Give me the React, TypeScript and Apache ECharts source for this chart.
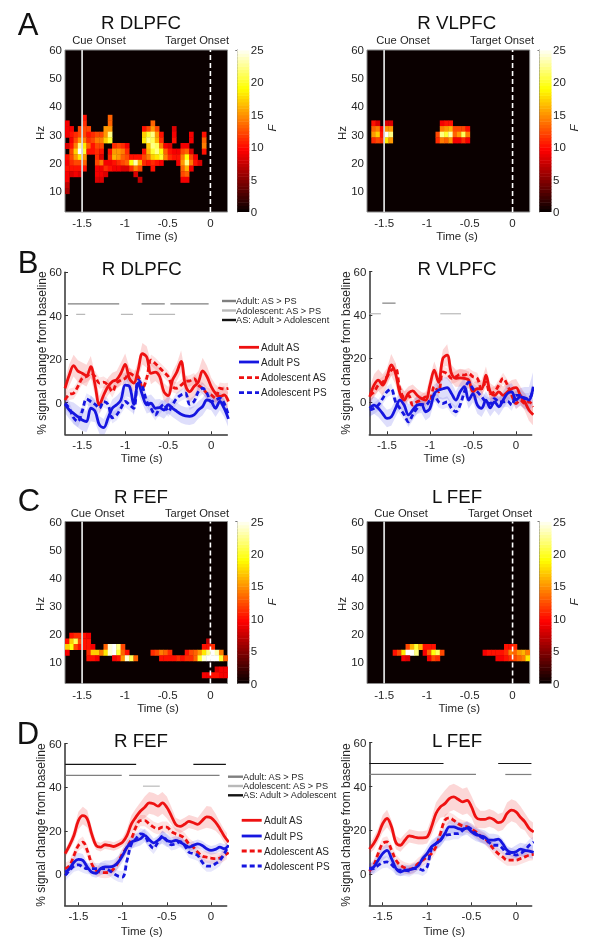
import React, { useEffect, useRef } from "react";
import * as echarts from "echarts";

const FONT = "'Liberation Sans', Arial, sans-serif";
const TEXT = "#262626";

const xTicks = [-1.5, -1, -0.5, 0];
const hzTicks = [10, 20, 30, 40, 50, 60];
const pctTicks = [0, 20, 40, 60];
const colorTicks = [0, 5, 10, 15, 20, 25];
const colorLevels = [0,0.5,1,1.5,2,2.5,3,3.5,4,4.5,5,5.5,6,6.5,7,7.5,8,8.5,9,9.5,10,10.5,11,11.5,12,12.5,13,13.5,14,14.5,15,15.5,16,16.5,17,17.5,18,18.5,19,19.5,20,20.5,21,21.5,22,22.5,23,23.5,24,24.5,25];

// Each row: [Hz, F values per 0.05 s column from -1.7 s]
const heatRDLPFC: [number, number[]][] = [
  [36, [0,0,0,0,10,0,0,0,0,0,13]],
  [34, [9,0,0,0,11,0,0,0,0,0,13,0,0,0,0,0,0,0,0,0,13]],
  [32, [9,9,0,12,12,12,0,0,0,15,15,0,0,0,0,0,0,0,10,12,15,12,0,0,0,8]],
  [30, [9,10,11,12,12,10,11,12,12,15,22,0,0,0,0,0,0,0,17,20,22,15,10,0,0,9,0,0,0,9,0,0,10]],
  [28, [0,9,12,15,14,11,12,14,14,17,20,0,0,0,0,0,0,0,18,22,21,16,11,0,0,10,0,0,0,9,0,0,13]],
  [26, [8,10,14,22,18,13,10,12,12,0,0,11,12,11,9,0,0,0,0,17,22,21,14,9,8,0,0,9,9,0,0,0,14]],
  [24, [0,12,17,25,20,10,10,11,10,0,10,15,15,14,11,0,0,0,10,16,20,22,19,13,10,9,9,12,13,8,0,0,10]],
  [22, [10,12,15,18,15,0,0,11,8,0,11,16,15,13,12,10,10,10,12,14,17,18,20,14,11,10,10,14,19,12,9]],
  [20, [9,11,12,12,13,0,0,12,14,9,9,10,11,12,13,19,23,16,11,10,11,10,9,0,0,0,9,15,22,14,10,8]],
  [18, [10,10,10,10,10,0,0,9,9,11,10,9,9,8,8,11,14,12,0,0,10,0,0,0,0,0,0,13,16,9]],
  [16, [9,8,9,8,0,0,0,9,9,8,0,0,0,0,0,0,8,0,0,0,0,0,0,0,0,0,0,12,13]],
  [14, [9,0,0,0,0,0,0,8,8,0,0,0,0,0,0,0,0,7,0,0,0,0,0,0,0,0,0,9,9]],
  [12, [7]],
  [10, [6]],
];
const heatRVLPFC: [number, number[]][] = [
  [34, [0,10,8,0,8,8,0,0,0,0,0,0,0,0,0,0,0,9,10,10]],
  [32, [0,13,14,9,15,15,0,0,0,0,0,0,0,0,0,0,0,14,15,16,12,12,12,10]],
  [30, [0,15,17,10,25,22,0,0,0,0,0,0,0,0,0,0,12,22,20,23,13,15,21,14]],
  [28, [0,11,12,11,18,15,0,0,0,0,0,0,0,0,0,0,11,14,13,15,9,9,11,9]],
];
const heatRFEF: [number, number[]][] = [
  [19.5, [0,10,11,11,10,9]],
  [17.5, [10,17,21,12,10,10,0,0,0,0,0,0,0,0,0,0,0,0,0,0,0,0,0,0,0,0,0,0,0,0,0,0,0,7]],
  [15.5, [17,19,12,10,10,10,9,0,0,13,24,25,22,12,0,0,0,0,0,0,0,0,0,0,0,0,0,0,0,0,0,0,10,10,11]],
  [13.5, [9,0,0,0,0,11,17,17,14,18,24,25,20,13,10,0,0,0,0,0,11,12,14,13,11,0,0,0,10,12,13,15,18,22,25,23,14]],
  [11.5, [0,0,0,0,0,10,10,9,0,0,0,9,10,15,24,21,13,0,0,0,0,0,10,10,10,10,11,10,11,11,13,20,24,25,25,25,20,13]],
  [7.5, [0,0,0,0,0,0,0,0,0,0,0,0,0,0,0,0,0,0,0,0,0,0,0,0,0,0,0,0,0,0,0,0,0,0,0,8,9,9]],
  [5.5, [0,0,0,0,0,0,0,0,0,0,0,0,0,0,0,0,0,0,0,0,0,0,0,0,0,0,0,0,0,0,0,0,9,9,10,10,9,9]],
];
const heatLFEF: [number, number[]][] = [
  [15.5, [0,0,0,0,0,0,0,0,0,12,16,20,16,10,10,10,0,0,0,0,0,0,0,0,0,0,0,0,0,0,0,0,10,10,11]],
  [13.5, [0,0,0,0,0,0,10,12,18,25,25,22,0,9,13,19,21,12,0,0,0,0,0,0,0,0,0,9,10,10,10,10,11,14,13,15,16,14]],
  [11.5, [0,0,0,0,0,0,0,0,9,8,0,0,0,0,9,12,11,0,0,0,0,0,0,0,0,0,0,0,0,0,9,9,10,11,12,13,14,18]],
];

// B panels: one value per 0.05 s from -1.7 s
const bLeftAdultAS = [6.5,12.7,17,14.5,13.5,12.4,16.5,8,-1,3.5,7.4,9.7,10.5,13.5,17.6,11,9,15,22.5,21,13.5,14,12,5,3.2,10.4,14,19,8,5,7.4,9.4,14.6,12,7.4,4.3,2.8,3.5,0.5];
const bLeftAdultPS = [-0.8,-3.4,-5,-6.5,-8,-8.7,-2.6,-4,-10.3,-11.5,-7.2,-2.6,-1,1.2,8,7.4,-0.8,9,3.5,-1,-0.3,-2.6,-2.3,-3.4,-1,-2.6,-4,-5.4,-6.1,-6.3,-5.7,-3.4,-1.8,1.2,0.5,-2.6,0.5,-2.6,-7.5];
const bLeftAdolAS = [1.2,3.8,4.3,7.4,11.2,12,13.5,12,9,9.4,8,5,9,10.4,11.2,13.5,12.4,12,6.6,11.2,19.6,18,16,14,12,7.4,6.6,8,9.7,10,11,8,6.6,4.3,3.5,2,6.6,6.3,6.6];
const bLeftAdolPS = [-0.3,-2.6,-7,-8.7,-4,1.7,0.5,-0.8,-2.6,0.5,-0.8,-7,-5.7,-2.6,0.5,-1,-2.6,10.4,7.4,0.5,-2.6,-5.7,-2.6,-0.8,-4,-1,2,3.5,4.3,-0.8,0.5,5,6.6,4.3,0.5,1.2,2,-0.3,-5.7];
const bRightAdultAS = [2.3,7.7,10,7.7,11.5,17,13,4,0.8,4,5,3,1.5,0.8,7.7,14.6,9,20,21.5,13,10.8,11,10.8,10,4.6,6,6,12.3,4.6,3,4.6,3,4.6,6,6.5,3,0,-3.8,-6];
const bRightAdultPS = [-3,-1.5,-3,-5.4,-7.7,-7,-3,0.8,-1.5,-6,-3.8,-1.5,-1.2,-4.6,-3,3.8,5.4,6,6.5,3.8,0.8,4.6,7,0.8,3.8,-1.5,-3,0.8,-2.8,0,-2.3,0.8,3.8,4.6,0.8,2.3,1.8,0.8,7];
const bRightAdolAS = [3,4.6,7.7,9,11.5,14.6,15.4,6,2.3,3,-1.5,0,0.8,2.3,1.5,7,4.6,13.8,13,10.8,11.5,12.6,12.3,13,11.5,10.8,6,9,3.8,4.6,7.7,10.8,7.7,3,-0.8,0.8,-0.8,0,-2.3];
const bRightAdolPS = [-3.8,-3,-1.5,1.5,4.6,5.8,0,-3,-6,-9.2,-6,-3,-1.2,-1.5,0.8,3,0,-0.8,0,-3,-4.6,-1.5,4.6,9,6,4.6,2.3,0,-0.8,1.5,0,0,0.3,-1.5,3,3,1.5,1.5,6];

// D panels: one value per 0.05 s from -1.65 s
const dLeftAdultAS = [9.5,13.3,18,24.7,27,25.5,18.6,13.3,12.5,13.6,13.3,12.8,13.6,14.8,17.9,23.2,26.3,29,30.8,32.8,32.4,31.3,32.8,30.8,27,23,22,23,24.3,23.7,23,24.7,26.4,26,24,21,17.5,14.8];
const dLeftAdultPS = [1,2.6,5.6,6.9,6.4,3.4,1,0.5,2.6,3.4,3.4,3.8,5.6,8.7,12.5,14.8,15.6,16.3,17.9,16,14.5,15.6,17,15.6,15,15.6,14.8,13.6,12.5,13.3,14,13.3,11.8,11,11.5,12.5,11.8,13.3];
const dLeftAdolAS = [2.6,4,8.7,13.3,14.8,11,4.9,1.8,1,0.8,1,2.6,5.6,9.5,12.5,16.3,21.7,24.7,24.7,23.2,21.7,20.9,21.7,21.7,19.7,18.6,17.9,16.6,14,12.5,10.2,8.4,7.9,7.5,7.2,7.5,8.7,10];
const dLeftAdolPS = [-0.5,1.8,3.8,4.4,3.4,2.6,2.6,2.6,2.6,2.6,1.8,0.3,-0.8,-1.2,6.4,14,16.3,18.6,17.9,14,12,14.8,17.6,15.6,13.6,14,15,13.3,10.2,9.5,8.7,5.6,3.8,3.8,4.9,6.4,9.5,13.3];
const dRightAdultAS = [11.4,14,17.8,23,25.4,21.6,14.4,13.2,15.5,17.5,17,16.6,16.6,17,21.6,27.7,30.7,32.2,34.5,35.3,34.2,33,33.7,30.7,26,25,25,25.7,25,23.5,24.2,27.7,29.2,28.4,26,23.9,20.8,19.3];
const dRightAdultPS = [2.6,3.3,6.4,9.4,10.9,7.1,2.6,1,1.8,2,2.6,3.8,7.1,9.4,12.5,14,15.5,18.5,21.6,21.6,20.8,20.5,21,19.3,18,17.5,16.9,15.5,15.5,16,14,10.9,9.9,10.2,11.4,10.9,10.5,10];
const dRightAdolAS = [1.4,4,9.4,14,14.7,11,6.4,4,2.9,2.3,2.9,4.9,6.4,7.9,9.4,12.5,18.5,24.6,25.7,24.6,23,22,21.6,20.5,19.3,17.5,16.3,14,11.4,9.4,7.9,6.4,6.4,6.4,7.1,7.9,8.7,9];
const dRightAdolPS = [2.3,2.6,4,5.3,5.6,4.4,2.3,1.8,1.8,1.4,2.6,2.6,1.8,3.3,11.7,14,15.5,17.8,18,18.5,18.5,20,21.6,20.5,18.5,17,16,14.4,13.2,13.2,11.7,9.4,9.4,8.7,9.4,10.9,13.2,14.7];

// Half-widths of the shaded error bands
const bLeftBandAS = [4,5,5,5,5,5,5,5,4,4,4,4,4,5,5,5,4,4,5,5,5,4,4,4,4,4,4,5,5,5,5,5,6,5,4,4,4,4,4];
const bLeftBandPS = [4,4,5,5,5,5,6,5,4,4,4,4,4,4,5,5,5,5,4,4,4,4,4,4,4,4,4,4,4,4,4,4,4,4,4,4,4,4,4];
const bRightBandAS = [4,5,5,5,4,5,5,4,4,3,3,3,3,3,4,4,4,4,5,4,4,4,4,4,4,4,4,4,4,4,4,4,4,4,4,4,4,5,5];
const bRightBandPS = [4,4,4,4,4,4,4,4,4,5,4,4,4,4,4,4,4,5,5,5,4,4,4,4,4,4,4,4,4,4,4,4,4,4,4,4,5,6,7];
const dLeftBandAS = [2,2,3,4,4,4,3,2,2,2,2,2,2,2,3,4,4,4,5,5,5,5,5,5,4,3,3,3,3,3,3,4,5,5,4,3,3,3];
const dLeftBandPS = [2,2,3,3,3,2,2,2,3,3,3,3,3,3,3,3,3,3,3,3,2,2,3,3,2,2,2,2,2,2,2,2,2,2,2,2,2,2];
const dRightBandAS = [2,3,3,4,4,3,3,3,3,3,3,3,3,3,4,5,5,6,6,6,6,6,6,5,5,4,4,4,4,4,4,5,5,5,5,4,4,4];
const dRightBandPS = [2,3,3,3,3,3,3,2,2,2,2,2,2,3,3,3,3,3,3,3,3,3,3,3,3,3,3,3,3,2,2,2,2,3,3,3,3,3];

// Significance bars: [from s, to s]
const bLeftSigAdult = [[-1.667,-1.07],[-0.81,-0.54],[-0.475,-0.03]];
const bLeftSigAdol = [[-1.57,-1.465],[-1.05,-0.91],[-0.72,-0.42]];
const bRightSigAdult = [[-1.554,-1.4]];
const bRightSigAdol = [[-1.7,-1.57],[-0.88,-0.64]];
const dLeftSigGroup = [[-1.65,-0.847],[-0.2,0.168]];
const dLeftSigAdult = [[-1.643,-1.01],[-0.926,0.096]];
const dLeftSigAdol = [[-0.77,-0.58]];
const dRightSigGroup = [[-1.65,-0.815],[-0.2,0.174]];
const dRightSigAdult = [[-1.65,-0.45],[-0.12,0.174]];

const RED = "#ee1111";
const BLUE = "#1616e0";
const SIG_DARK = "#7f7f7f";
const SIG_LIGHT = "#b9b9b9";
const SIG_BLACK = "#141414";

function hot(v: number): string {
  const r = Math.min(1, v / 9.4);
  const g = Math.max(0, Math.min(1, (v - 9.4) / 9.4));
  const b = Math.max(0, Math.min(1, (v - 18.8) / 6.2));
  const c = (x: number) => Math.round(10 + x * 245);
  return `rgb(${c(r)},${Math.round(g * 255)},${Math.round(b * 255)})`;
}

function buildOption() {
  const grid: any[] = [];
  const xAxis: any[] = [];
  const yAxis: any[] = [];
  const series: any[] = [];
  const graphic: any[] = [];

  const addGrid = (g: any, x: any, y: any) => {
    grid.push({ ...g, containLabel: false });
    xAxis.push({ gridIndex: grid.length - 1, type: "value", ...x });
    yAxis.push({ gridIndex: grid.length - 1, type: "value", ...y });
    return grid.length - 1;
  };
  const label = (custom: number[], margin: number) => ({
    customValues: custom, margin, fontSize: 11.5, fontFamily: FONT, color: TEXT,
    hideOverlap: false, showMinLabel: true, showMaxLabel: true,
    formatter: (v: number) => String(v),
  });

  const heatPanel = (left: number, top: number, width: number, rows: [number, number[]][]) => {
    const idx = addGrid(
      { left, top, width, height: 162, show: true, backgroundColor: "#0a0000", borderColor: "#8a8a8a", borderWidth: 1 },
      { min: -1.7, max: 0.2, axisLine: { show: false }, splitLine: { show: false }, axisTick: { show: false, customValues: xTicks }, axisLabel: label(xTicks, 5) },
      { min: 2.5, max: 60, axisLine: { show: false }, splitLine: { show: false }, axisTick: { show: false, customValues: hzTicks }, axisLabel: label(hzTicks, 3) },
    );
    const cells: number[][] = [];
    rows.forEach(([hz, vals]) => vals.forEach((v, k) => { if (v > 0) cells.push([-1.7 + 0.05 * k, hz, v]); }));
    series.push({
      type: "custom", xAxisIndex: idx, yAxisIndex: idx, clip: true, silent: true, z: 2, data: cells,
      renderItem: (_p: any, api: any) => {
        const t = api.value(0), hz = api.value(1), v = api.value(2);
        const a = api.coord([t, hz + 1]);
        const b = api.coord([t + 0.05, hz - 1]);
        return { type: "rect", shape: { x: a[0], y: a[1], width: b[0] - a[0] + 0.4, height: b[1] - a[1] + 0.4 }, style: { fill: hot(v) } };
      },
    });
    series.push({ type: "line", xAxisIndex: idx, yAxisIndex: idx, symbol: "none", z: 3, silent: true, data: [[-1.5, 2.5], [-1.5, 60]], lineStyle: { color: "#d8d8d8", width: 1.8 } });
    series.push({ type: "line", xAxisIndex: idx, yAxisIndex: idx, symbol: "none", z: 3, silent: true, data: [[0, 2.5], [0, 60]], lineStyle: { color: "#ffffff", width: 1.6, type: [5, 3] } });

    const cbLeft = left + width + 9.8;
    const cb = addGrid(
      { left: cbLeft, top, width: 12, height: 162, show: false },
      { min: 0, max: 1, show: false },
      { min: 0, max: 25, position: "right", axisLine: { show: true, lineStyle: { color: "#777", width: 1 } }, splitLine: { show: false },
        axisTick: { show: true, inside: true, length: 2, customValues: [25], lineStyle: { color: "#777" } }, axisLabel: label(colorTicks, 1.5) },
    );
    series.push({
      type: "custom", xAxisIndex: cb, yAxisIndex: cb, clip: true, silent: true, z: 2,
      data: colorLevels.map((l) => [0, l]),
      renderItem: (_p: any, api: any) => {
        const l = api.value(1);
        const a = api.coord([0, l + 0.5]);
        const b = api.coord([1, l]);
        return { type: "rect", shape: { x: a[0], y: a[1], width: b[0] - a[0], height: b[1] - a[1] + 0.5 }, style: { fill: hot(l) } };
      },
    });
  };

  const linePanel = (g: any, xMin: number, xMax: number, yMin: number, t0: number,
    aAS: number[], aPS: number[], dAS: number[], dPS: number[], bandAS: number[], bandPS: number[],
    sigs: [number[][], string, number][]) => {
    const idx = addGrid(
      { ...g, show: false },
      { min: xMin, max: xMax, splitLine: { show: false }, axisLine: { show: true, onZero: false, lineStyle: { color: "#333", width: 1.5 } }, axisTick: { show: true, inside: true, length: 3, customValues: xTicks, lineStyle: { color: "#333" } }, axisLabel: label(xTicks, 5) },
      { min: yMin, max: 60, splitLine: { show: false }, axisLine: { show: true, onZero: false, lineStyle: { color: "#333", width: 1.5 } }, axisTick: { show: true, inside: true, length: 3, customValues: pctTicks, lineStyle: { color: "#333" } }, axisLabel: label(pctTicks, 3) },
    );
    const band = (vals: number[], hw: number[] | number, color: string, op: number) => {
      const rows = vals.map((v, i) => {
        const h = typeof hw === "number" ? hw : (hw[i] ?? hw[hw.length - 1]);
        return [t0 + 0.05 * i, v - h, v + h];
      });
      series.push({
        type: "custom", xAxisIndex: idx, yAxisIndex: idx, clip: true, silent: true, z: 2, data: rows,
        renderItem: (p: any, api: any) => {
          if (p.dataIndex !== 0) return null;
          const up = rows.map((r) => api.coord([r[0], r[2]]));
          const lo = rows.map((r) => api.coord([r[0], r[1]])).reverse();
          return { type: "polygon", shape: { points: up.concat(lo) }, style: { fill: color, opacity: op } };
        },
      });
    };
    band(aAS, bandAS, RED, 0.17);
    band(dAS, 2.6, RED, 0.12);
    band(aPS, bandPS, BLUE, 0.14);
    band(dPS, 2.6, BLUE, 0.1);
    const line = (vals: number[], color: string, dash: boolean) => series.push({
      type: "line", xAxisIndex: idx, yAxisIndex: idx, symbol: "none", smooth: 0.35, silent: true, z: 3,
      data: vals.map((v, i) => [t0 + 0.05 * i, v]),
      lineStyle: { color, width: 2.8, type: dash ? [5, 3] : "solid" },
    });
    line(aAS, RED, false);
    line(dAS, RED, true);
    line(aPS, BLUE, false);
    line(dPS, BLUE, true);
    sigs.forEach(([segs, color, level]) => segs.forEach(([a, b]) => series.push({
      type: "line", xAxisIndex: idx, yAxisIndex: idx, symbol: "none", silent: true, z: 4,
      data: [[a, level], [b, level]], lineStyle: { color, width: 1.2 },
    })));
  };

  heatPanel(65, 50, 162.5, heatRDLPFC);
  heatPanel(367, 50, 162.7, heatRVLPFC);
  heatPanel(65, 521.5, 162.5, heatRFEF);
  heatPanel(367, 521.5, 162.7, heatLFEF);

  linePanel({ left: 65, top: 272.3, width: 162.3, height: 162 }, -1.7, 0.187, -14.6, -1.7,
    bLeftAdultAS, bLeftAdultPS, bLeftAdolAS, bLeftAdolPS, bLeftBandAS, bLeftBandPS,
    [[bLeftSigAdult, SIG_DARK, 45.5], [bLeftSigAdol, SIG_LIGHT, 40.6]]);
  linePanel({ left: 369.3, top: 271.7, width: 162.4, height: 162.6 }, -1.705, 0.182, -15, -1.7,
    bRightAdultAS, bRightAdultPS, bRightAdolAS, bRightAdolPS, bRightBandAS, bRightBandPS,
    [[bRightSigAdult, SIG_DARK, 45.5], [bRightSigAdol, SIG_LIGHT, 40.6]]);
  linePanel({ left: 64.7, top: 743.7, width: 162, height: 161.6 }, -1.655, 0.177, -14.2, -1.65,
    dLeftAdultAS, dLeftAdultPS, dLeftAdolAS, dLeftAdolPS, dLeftBandAS, dLeftBandPS,
    [[dLeftSigGroup, SIG_BLACK, 50.5], [dLeftSigAdult, SIG_DARK, 45.5], [dLeftSigAdol, SIG_LIGHT, 40.5]]);
  linePanel({ left: 369.3, top: 742.7, width: 162.4, height: 162.6 }, -1.65, 0.177, -14.2, -1.65,
    dRightAdultAS, dRightAdultPS, dRightAdolAS, dRightAdolPS, dRightBandAS, dRightBandPS,
    [[dRightSigGroup, SIG_BLACK, 50.5], [dRightSigAdult, SIG_DARK, 45.5]]);

  const text = (t: string, x: number, y: number, fontSize: number, opts: any = {}) => graphic.push({
    type: "text", x, y, rotation: opts.rotation ?? 0, silent: true, z: 10,
    style: { text: t, x: 0, y: 0, fontSize, fontFamily: FONT, fontStyle: opts.italic ? "italic" : "normal", fill: opts.fill ?? TEXT, align: opts.align ?? "center", verticalAlign: "middle" },
  });
  const rule = (x1: number, x2: number, y: number, stroke: string, lineWidth: number, dash?: number[]) => graphic.push({
    type: "line", silent: true, z: 10, shape: { x1, y1: y, x2, y2: y }, style: { stroke, lineWidth, lineDash: dash },
  });

  // panel letters
  text("A", 28, 24, 31, { fill: "#111" });
  text("B", 28, 262, 31, { fill: "#111" });
  text("C", 29, 500, 31, { fill: "#111" });
  text("D", 28, 733, 31, { fill: "#111" });
  // titles
  text("R DLPFC", 141, 22, 18.7, { fill: "#111" });
  text("R VLPFC", 456.7, 22, 18.7, { fill: "#111" });
  text("R DLPFC", 141.7, 268, 18.7, { fill: "#111" });
  text("R VLPFC", 457, 268, 18.7, { fill: "#111" });
  text("R FEF", 141, 496, 18.7, { fill: "#111" });
  text("L FEF", 457, 496, 18.7, { fill: "#111" });
  text("R FEF", 141, 740, 18.7, { fill: "#111" });
  text("L FEF", 457, 740, 18.7, { fill: "#111" });
  // onset labels
  text("Cue Onset", 99, 40, 11.2);
  text("Target Onset", 197, 40, 11.2);
  text("Cue Onset", 403, 40, 11.2);
  text("Target Onset", 502, 40, 11.2);
  text("Cue Onset", 97.5, 512.7, 11.2);
  text("Target Onset", 197, 512.7, 11.2);
  text("Cue Onset", 401, 512.7, 11.2);
  text("Target Onset", 500, 512.7, 11.2);
  // axis names
  const RV = Math.PI / 2;
  [[156.7, 236], [457, 236], [158, 708], [459.3, 708], [141.7, 458], [444.3, 458], [141.7, 931], [444.3, 931]]
    .forEach(([x, y]) => text("Time (s)", x, y, 11.5));
  [[40, 133], [342, 133], [40, 604], [342, 604]].forEach(([x, y]) => text("Hz", x, y, 11.5, { rotation: RV }));
  [[272, 128], [574, 128], [272, 602], [574, 602]].forEach(([x, y]) => text("F", x, y, 11.5, { rotation: RV, italic: true }));
  [[42, 353], [346, 353], [41, 825], [346, 825]].forEach(([x, y]) => text("% signal change from baseline", x, y, 12, { rotation: RV }));
  // legends
  const legendSig = (x1: number, x2: number, ys: number[], tx: number) => {
    rule(x1, x2, ys[0], SIG_DARK, 2.4);
    rule(x1, x2, ys[1], SIG_LIGHT, 2.4);
    rule(x1, x2, ys[2], SIG_BLACK, 2.4);
    text("Adult: AS > PS", tx, ys[0], 9.2, { align: "left" });
    text("Adolescent: AS > PS", tx, ys[1], 9.2, { align: "left" });
    text("AS: Adult > Adolescent", tx, ys[2], 9.2, { align: "left" });
  };
  legendSig(222, 236, [301, 310.5, 320], 236);
  legendSig(228, 243, [776.7, 786, 795.3], 243);
  const legendLines = (x1: number, x2: number, ys: number[], tx: number) => {
    rule(x1, x2, ys[0], RED, 2.8);
    rule(x1, x2, ys[1], BLUE, 2.8);
    rule(x1, x2, ys[2], RED, 2.8, [5, 3]);
    rule(x1, x2, ys[3], BLUE, 2.8, [5, 3]);
    text("Adult AS", tx, ys[0], 10, { align: "left" });
    text("Adult PS", tx, ys[1], 10, { align: "left" });
    text("Adolescent AS", tx, ys[2], 10, { align: "left" });
    text("Adolescent PS", tx, ys[3], 10, { align: "left" });
  };
  legendLines(239, 259, [347.3, 362, 377.7, 392.7], 261);
  legendLines(241.7, 261.7, [820.3, 836, 851, 866], 264);

  return { animation: false, backgroundColor: "#ffffff", grid, xAxis, yAxis, series, graphic };
}

export default function App() {
  const ref = useRef<HTMLDivElement>(null);
  useEffect(() => {
    document.body.style.margin = "0";
    const chart = echarts.init(ref.current!, undefined, { renderer: "svg" });
    chart.setOption(buildOption() as any);
    return () => chart.dispose();
  }, []);
  return <div ref={ref} style={{ position: "absolute", left: 0, top: 0, width: 602, height: 947, filter: "blur(0.45px)" }} />;
}
